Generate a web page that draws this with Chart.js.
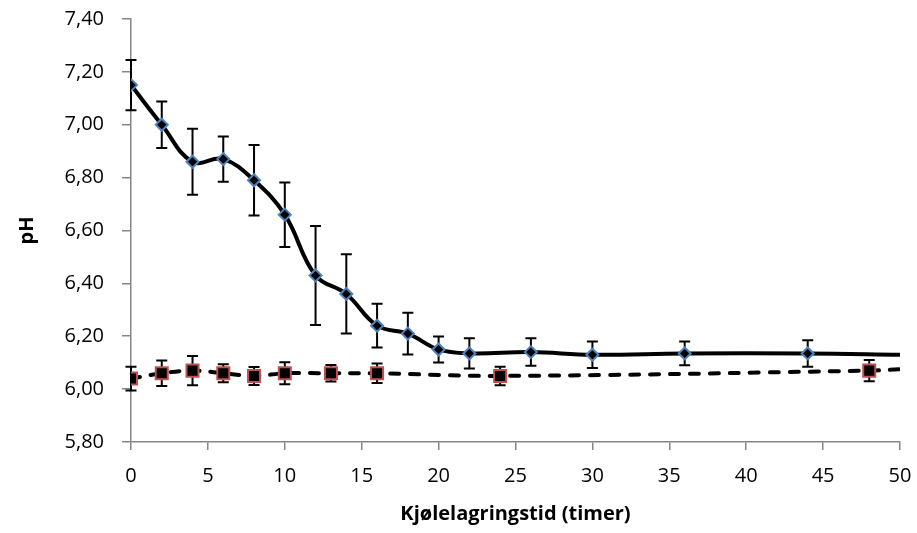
<!DOCTYPE html>
<html>
<head>
<meta charset="utf-8">
<script src="https://cdn.jsdelivr.net/npm/chart.js@4/dist/chart.umd.min.js"></script>
<style>
  html, body { margin: 0; padding: 0; background: #fff; }
  #wrap { width: 917px; height: 533px; position: relative; }
</style>
</head>
<body>
<div id="wrap"><canvas id="c" width="917" height="533"></canvas></div>
<script>
// Storage time (hours) and measured pH, with standard deviations
const timeA = [0, 2, 4, 6, 8, 10, 12, 14, 16, 18, 20, 22, 26, 30, 36, 44, 50];
const phA   = [7.15, 7.00, 6.86, 6.87, 6.79, 6.66, 6.43, 6.36, 6.24, 6.21, 6.15, 6.135, 6.14, 6.13, 6.135, 6.135, 6.13];
const sdA   = [0.095, 0.088, 0.125, 0.086, 0.133, 0.122, 0.187, 0.150, 0.083, 0.079, 0.049, 0.057, 0.052, 0.050, 0.045, 0.050, null];

const timeB = [0, 2, 4, 6, 8, 10, 13, 16, 24, 48, 50];
const phB   = [6.04, 6.06, 6.07, 6.06, 6.05, 6.06, 6.06, 6.06, 6.05, 6.07, 6.075];
const sdB   = [0.045, 0.048, 0.055, 0.034, 0.034, 0.042, 0.031, 0.037, 0.035, 0.040, null];

const xTicks = [0, 5, 10, 15, 20, 25, 30, 35, 40, 45, 50];
const yTicks = [5.8, 6.0, 6.2, 6.4, 6.6, 6.8, 7.0, 7.2, 7.4];

const toPoints = (xs, ys) => xs.map((x, i) => ({ x: x, y: ys[i] }));
const lastHidden = (r, n) => ctx => (ctx.dataIndex === n - 1 ? 0 : r);

// Vertical error bars with caps, drawn through the chart's own scales
const errorBars = {
  id: 'errorBars',
  beforeDatasetsDraw(chart) {
    const { ctx, scales: { x, y } } = chart;
    const sets = [[timeA, phA, sdA], [timeB, phB, sdB]];
    ctx.save();
    ctx.strokeStyle = '#000';
    ctx.lineWidth = 2;
    const cap = 5.5;
    sets.forEach(([xs, ys, sd]) => {
      xs.forEach((t, i) => {
        if (sd[i] == null) return;
        const px = x.getPixelForValue(t);
        const top = y.getPixelForValue(ys[i] + sd[i]);
        const bot = y.getPixelForValue(ys[i] - sd[i]);
        ctx.beginPath();
        ctx.moveTo(px, top); ctx.lineTo(px, bot);
        ctx.moveTo(px - cap, top); ctx.lineTo(px + cap, top);
        ctx.moveTo(px - cap, bot); ctx.lineTo(px + cap, bot);
        ctx.stroke();
      });
    });
    ctx.restore();
  }
};

// Let the outer layout padding alone decide where the plot area sits
const noScalePadding = s => {
  s.paddingTop = 0; s.paddingBottom = 0; s.paddingLeft = 0; s.paddingRight = 0;
};

const axisGrey = '#868686';
const tickFont = { family: '"Open Sans", sans-serif', size: 20 };
const titleFont = { family: '"Open Sans", sans-serif', size: 20, weight: 'bold' };

new Chart(document.getElementById('c'), {
  type: 'line',
  data: {
    datasets: [
      {
        data: toPoints(timeA, phA),
        borderColor: '#000',
        borderWidth: 4,
        tension: 0.4,
        pointStyle: 'rectRot',
        pointRadius: lastHidden(6, timeA.length),
        pointBackgroundColor: '#000',
        pointBorderColor: '#4F81BD',
        pointBorderWidth: 2
      },
      {
        data: toPoints(timeB, phB),
        borderColor: '#000',
        borderWidth: 4,
        borderDash: [9, 11],
        borderCapStyle: 'round',
        tension: 0.4,
        pointStyle: 'rect',
        pointRadius: lastHidden(8.5, timeB.length),
        pointBackgroundColor: '#000',
        pointBorderColor: '#C0504D',
        pointBorderWidth: 2
      }
    ]
  },
  options: {
    responsive: false,
    animation: false,
    events: [],
    layout: { padding: { left: 0, right: 17, top: 19, bottom: 0 } },
    plugins: { legend: { display: false }, tooltip: { enabled: false } },
    scales: {
      x: {
        type: 'linear',
        min: 0, max: 50,
        afterBuildTicks: s => { s.ticks = xTicks.map(v => ({ value: v })); },
        afterFit: s => { s.height = 91; noScalePadding(s); },
        border: { color: axisGrey, width: 1.5 },
        grid: { drawOnChartArea: false, color: axisGrey, lineWidth: 1.5, tickLength: 8 },
        ticks: { color: '#000', font: tickFont, padding: 14, maxRotation: 0 },
        title: { display: true, text: 'Kjølelagringstid (timer)', color: '#000', font: titleFont, padding: { top: 0, bottom: 7 } }
      },
      y: {
        type: 'linear',
        min: 5.8, max: 7.4,
        afterBuildTicks: s => { s.ticks = yTicks.map(v => ({ value: v })); },
        afterFit: s => { s.width = 131; noScalePadding(s); },
        border: { color: axisGrey, width: 1.5 },
        grid: { drawOnChartArea: false, color: axisGrey, lineWidth: 1.5, tickLength: 9 },
        ticks: {
          color: '#000', font: tickFont, padding: 18,
          callback: v => v.toFixed(2).replace('.', ',')
        },
        title: { display: true, text: 'pH', color: '#000', font: titleFont, padding: { top: 15, bottom: 0 } }
      }
    }
  },
  plugins: [errorBars]
});
</script>
</body>
</html>
